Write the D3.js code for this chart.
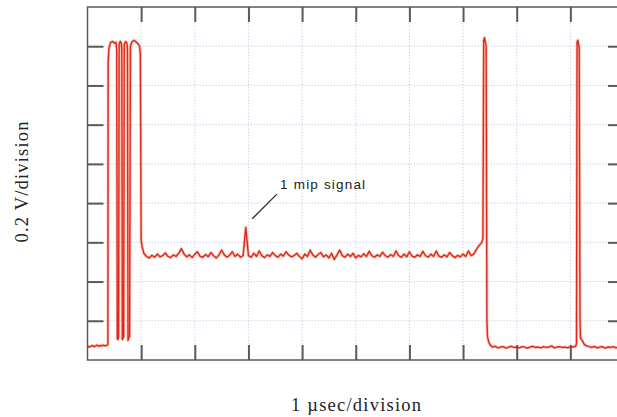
<!DOCTYPE html>
<html>
<head>
<meta charset="utf-8">
<script src="https://cdn.jsdelivr.net/npm/d3@7"></script>
<style>
  html, body { margin: 0; padding: 0; background: #fff; }
  svg { display: block; }
</style>
</head>
<body>
<svg id="chart" width="617" height="417"></svg>
<script>
// ---- DATA (time in µs = divisions, signal in divisions of 0.2 V) ----
const xTicks = [1, 2, 3, 4, 5, 6, 7, 8, 9];
const yTicks = [1, 2, 3, 4, 5, 6, 7, 8];

// burst of pulses at the start
const burstTrace = [
  [0.00,0.36],[0.03,0.33],[0.06,0.35],[0.09,0.37],[0.12,0.34],[0.15,0.36],[0.18,0.38],
  [0.21,0.35],[0.24,0.37],[0.27,0.36],[0.30,0.38],[0.33,0.36],[0.36,0.37],
  [0.38,0.40],[0.385,7.6],[0.40,7.95],[0.43,8.10],[0.47,8.12],[0.50,8.08],[0.53,8.10],
  [0.545,7.9],[0.555,0.55],[0.565,0.52],
  [0.58,0.6],[0.59,8.05],[0.61,8.12],[0.63,8.08],
  [0.64,7.9],[0.65,0.52],[0.66,0.55],
  [0.675,0.6],[0.685,8.05],[0.71,8.12],[0.735,8.08],
  [0.745,7.9],[0.755,0.5],[0.765,0.55],
  [0.785,0.6],[0.80,8.0],[0.83,8.12],[0.87,8.15],[0.91,8.10],[0.95,8.05],[0.97,8.0],
  [0.985,7.8],[1.00,3.05],[1.02,2.88]
];

// plateau samples: start 1.05 µs, step 0.05 µs
const plateauStart = 1.05, plateauStep = 0.05;
const plateauValues = [
  2.72,2.64,2.60,2.67,2.62,2.70,2.63,2.66,2.73,2.64,
  2.61,2.68,2.64,2.72,2.84,2.70,2.63,2.68,2.61,2.70,
  2.76,2.64,2.62,2.69,2.63,2.74,2.66,2.60,2.68,2.80,
  2.68,2.62,2.67,2.76,2.64,2.70,2.62,2.66,3.38,2.66,
  2.62,2.72,2.64,2.78,2.66,2.61,2.68,2.64,2.74,2.66,
  2.62,2.70,2.65,2.76,2.68,2.63,2.66,2.72,2.64,2.58,
  2.70,2.64,2.80,2.68,2.62,2.69,2.74,2.63,2.68,2.60,
  2.72,2.56,2.68,2.80,2.66,2.62,2.70,2.64,2.72,2.60,
  2.67,2.63,2.71,2.64,2.77,2.66,2.62,2.68,2.64,2.75,
  2.66,2.62,2.69,2.64,2.78,2.66,2.62,2.70,2.63,2.76,
  2.65,2.62,2.68,2.64,2.77,2.66,2.62,2.70,2.64,2.78,
  2.65,2.62,2.68,2.63,2.74,2.66,2.61,2.67,2.63,2.70,
  2.64,2.78,2.66,2.70,2.82,2.92,3.00
];

const pulse1Trace = [
  [7.37,3.1],[7.385,8.15],[7.40,8.22],[7.43,8.0],[7.445,1.0],[7.455,0.6],[7.48,0.45],[7.52,0.36]
];

const lowStart = 7.55, lowStep = 0.05;
const lowValues = [
  0.33,0.35,0.31,0.33,0.34,0.30,0.33,0.35,0.32,0.33,0.31,0.34,0.33,0.30,0.33,0.35,
  0.32,0.33,0.31,0.34,0.32,0.33,0.36,0.31,0.33,0.34,0.32,0.33,0.31,0.34,0.33,0.35
];

const pulse2Trace = [
  [9.115,0.42],[9.125,8.1],[9.14,8.15],[9.165,7.95],[9.18,1.0],[9.19,0.55],[9.22,0.5],[9.26,0.4],[9.30,0.36]
];

const low2Start = 9.35, low2Step = 0.05;
const low2Values = [0.34,0.32,0.35,0.31,0.33,0.34,0.30,0.33,0.32,0.34,0.31,0.33,0.34,0.32,0.33,0.31];

const annotationText = "1 mip signal";
const annotationLine = [[3.07,3.60],[3.53,4.23]];
const annotationPos = [3.59,4.36];

// ---- BUILD ----
(function () {
const sampled = (start, step, vals) => vals.map((v, i) => [start + step * i, v]);
const trace = [].concat(
  burstTrace,
  sampled(plateauStart, plateauStep, plateauValues),
  pulse1Trace,
  sampled(lowStart, lowStep, lowValues),
  pulse2Trace,
  sampled(low2Start, low2Step, low2Values)
);

const svg = d3.select("#chart");
const pL = 87.5, pR = 624, pT = 7, pB = 360;
const x = d3.scaleLinear().domain([0, 10]).range([pL, pR]);
const y = d3.scaleLinear().domain([0, 9]).range([pB, pT]);

svg.append("defs").append("clipPath").attr("id", "plotclip")
  .append("rect").attr("x", pL).attr("y", pT).attr("width", pR - pL).attr("height", pB - pT);

// grid
const grid = svg.append("g").attr("stroke", "#c6c6ee").attr("stroke-width", 1).attr("stroke-dasharray", "1.2,2");
grid.selectAll("line.v").data(xTicks).join("line").attr("class", "v")
  .attr("x1", d => x(d)).attr("x2", d => x(d)).attr("y1", pT).attr("y2", pB);
grid.selectAll("line.h").data(yTicks).join("line").attr("class", "h")
  .attr("x1", pL).attr("x2", pR).attr("y1", d => y(d)).attr("y2", d => y(d));

// trace
const line = d3.line().x(d => x(d[0])).y(d => y(d[1]));
const tg = svg.append("g").attr("clip-path", "url(#plotclip)");
tg.append("path").datum(trace).attr("d", line)
  .attr("fill", "none").attr("stroke", "#f39a7c").attr("stroke-width", 3).attr("stroke-opacity", 0.55)
  .attr("stroke-linejoin", "round");
tg.append("path").datum(trace).attr("d", line)
  .attr("fill", "none").attr("stroke", "#e2261c").attr("stroke-width", 1.4)
  .attr("stroke-linejoin", "round");

// axes with inward ticks
const axisColor = "#5a5a5a";
function styleAxis(g) {
  g.select(".domain").remove();
  g.selectAll(".tick line").attr("stroke", axisColor).attr("stroke-width", 2);
  g.selectAll(".tick text").remove();
}
svg.append("g").attr("transform", `translate(0,${pB})`)
  .call(d3.axisBottom(x).tickValues(xTicks).tickSize(-15).tickFormat("")).call(styleAxis);
svg.append("g").attr("transform", `translate(0,${pT})`)
  .call(d3.axisTop(x).tickValues(xTicks).tickSize(-15).tickFormat("")).call(styleAxis);
svg.append("g").attr("transform", `translate(${pL},0)`)
  .call(d3.axisLeft(y).tickValues(yTicks).tickSize(-16).tickFormat("")).call(styleAxis);
svg.append("g").attr("transform", `translate(${pR},0)`)
  .call(d3.axisRight(y).tickValues(yTicks).tickSize(-16).tickFormat("")).call(styleAxis);

// frame
svg.append("rect").attr("x", pL).attr("y", pT).attr("width", pR - pL).attr("height", pB - pT)
  .attr("fill", "none").attr("stroke", axisColor).attr("stroke-width", 1.5);

// annotation
svg.append("line")
  .attr("x1", x(annotationLine[0][0])).attr("y1", y(annotationLine[0][1]))
  .attr("x2", x(annotationLine[1][0])).attr("y2", y(annotationLine[1][1]))
  .attr("stroke", "#333").attr("stroke-width", 1.3);
svg.append("text").attr("x", x(annotationPos[0])).attr("y", y(annotationPos[1]))
  .attr("font-family", "Liberation Sans, Arial, sans-serif").attr("font-size", 13.5)
  .attr("textLength", 85).attr("lengthAdjust", "spacing")
  .attr("fill", "#222").text(annotationText);

// axis titles
svg.append("text").attr("x", 356).attr("y", 411).attr("text-anchor", "middle")
  .attr("font-family", "Liberation Serif, Times New Roman, serif").attr("font-size", 18.5)
  .attr("textLength", 130).attr("lengthAdjust", "spacing")
  .attr("fill", "#222").text("1 µsec/division");
svg.append("text").attr("transform", "translate(28,182) rotate(-90)").attr("text-anchor", "middle")
  .attr("font-family", "Liberation Serif, Times New Roman, serif").attr("font-size", 18.5)
  .attr("textLength", 121).attr("lengthAdjust", "spacing")
  .attr("fill", "#222").text("0.2 V/division");
})();
</script>
</body>
</html>
